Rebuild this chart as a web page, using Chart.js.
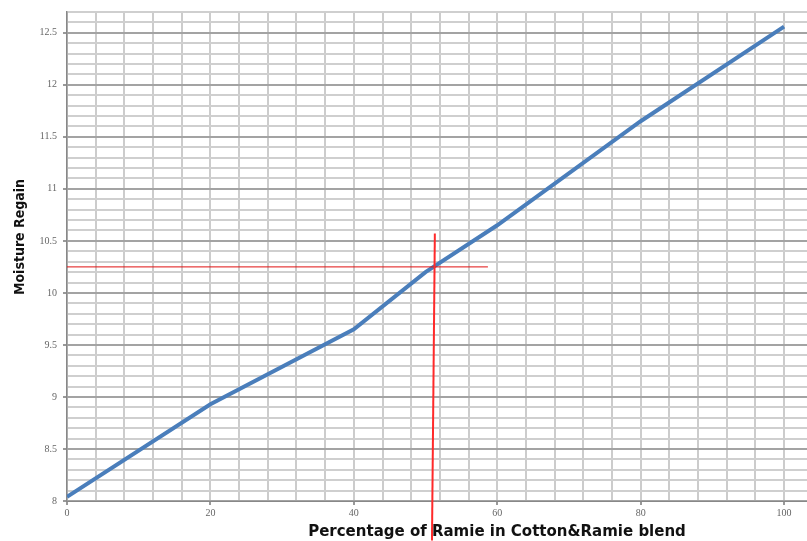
<!DOCTYPE html>
<html>
<head>
  <meta charset="utf-8" />
  <title>Moisture Regain vs Ramie Percentage</title>
  <script src="https://cdn.jsdelivr.net/npm/chart.js"></script>
  <style>
    html, body { margin: 0; padding: 0; background: #fff; }
    #wrap { position: relative; width: 807px; height: 541px; }
  </style>
</head>
<body>
  <div id="wrap"><canvas id="chart" width="807" height="541"></canvas></div>

  <script>
    // blend composition (% ramie) and measured moisture regain
    const ramiePct = [0, 20, 40, 50, 60, 80, 100];
    const moistureRegain = [8.04, 8.93, 9.65, 10.2, 10.65, 11.65, 12.56];

    // red read-off lines (51% ramie -> 10.25 regain)
    const readX = [51.3, 50.9];
    const readXRange = [10.57, 7.62];
    const readY = [10.25, 10.25];
    const readYRange = [0, 58.7];

    const xTitle = 'Percentage of Ramie in Cotton&Ramie blend';
    const yTitle = 'Moisture Regain';

    const toPts = (xs, ys) => xs.map((x, i) => ({ x: x, y: ys[i] }));

    // axis titles sit off-centre in the original, so draw them by hand
    const titlePlugin = {
      id: 'titles',
      afterDraw(chart) {
        const ctx = chart.ctx;
        ctx.save();
        ctx.fillStyle = '#111';
        ctx.textAlign = 'center';
        ctx.textBaseline = 'middle';
        ctx.font = 'bold 15px "DejaVu Sans", Verdana, sans-serif';
        ctx.fillText(xTitle, 497, 532);
        ctx.translate(20, 237);
        ctx.rotate(-Math.PI / 2);
        ctx.font = 'bold 14px "Liberation Sans Narrow", "DejaVu Sans Condensed", sans-serif';
        ctx.fillText(yTitle, 0, 0);
        ctx.restore();
      }
    };

    const isMajorY = v => Math.round(v * 10) % 5 === 0;
    const isMajorX = v => Math.round(v) % 20 === 0 && v <= 100;

    new Chart(document.getElementById('chart'), {
      type: 'scatter',
      data: {
        datasets: [
          {
            data: toPts(ramiePct, moistureRegain),
            showLine: true,
            borderColor: '#4a7ebb',
            borderWidth: 4,
            pointRadius: 0,
            order: 2
          },
          {
            data: toPts(readX, readXRange),
            showLine: true,
            borderColor: '#ff2a2a',
            borderWidth: 2,
            pointRadius: 0,
            clip: false,
            order: 1
          },
          {
            data: toPts(readYRange, readY),
            showLine: true,
            borderColor: '#e01010',
            borderWidth: 1,
            pointRadius: 0,
            clip: false,
            order: 1
          }
        ]
      },
      options: {
        responsive: false,
        animation: false,
        layout: { padding: { top: 8, left: 0, right: 0, bottom: 0 } },
        plugins: {
          legend: { display: false },
          tooltip: { enabled: false }
        },
        scales: {
          x: {
            type: 'linear',
            min: 0,
            max: 103.2,
            afterFit: s => { s.height = 40; s.paddingRight = 0; },
            afterBuildTicks: s => {
              const t = [];
              for (let v = 0; v <= 100; v += 4) t.push({ value: v });
              s.ticks = t;
            },
            border: { color: '#888', width: 1 },
            grid: {
              color: '#cccccc',
              lineWidth: 2,
              tickLength: 4,
              tickColor: c => isMajorX(c.tick.value) ? '#999' : 'rgba(0,0,0,0)'
            },
            ticks: {
              maxRotation: 0,
              autoSkip: false,
              padding: 2,
              color: '#666',
              font: { family: '"Liberation Serif", "DejaVu Serif", serif', size: 10 },
              callback: v => isMajorX(v) ? String(Math.round(v)) : ''
            }
          },
          y: {
            min: 8,
            max: 12.7,
            afterFit: s => { s.width = 67; },
            border: { color: '#888', width: 1.5 },
            grid: {
              color: c => isMajorY(c.tick.value) ? '#a3a3a3' : '#cfcfcf',
              lineWidth: 2,
              tickLength: 4,
              tickColor: c => isMajorY(c.tick.value) ? '#999' : 'rgba(0,0,0,0)'
            },
            ticks: {
              stepSize: 0.1,
              autoSkip: false,
              padding: 6,
              color: '#666',
              font: { family: '"Liberation Serif", "DejaVu Serif", serif', size: 10 },
              callback: v => isMajorY(v) ? String(Math.round(v * 10) / 10) : ''
            }
          }
        }
      },
      plugins: [titlePlugin]
    });
  </script>
</body>
</html>
